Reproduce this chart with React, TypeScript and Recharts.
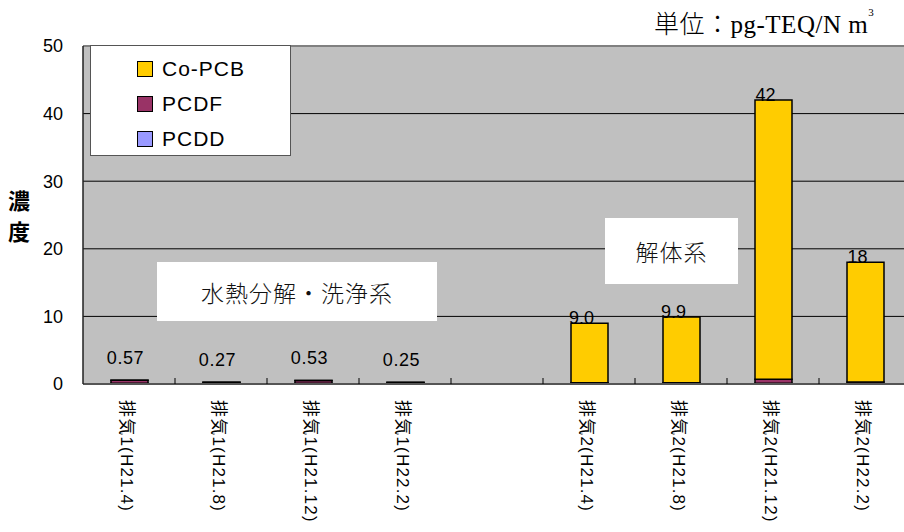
import { BarChart, Bar, XAxis, YAxis, CartesianGrid, LabelList, ReferenceLine } from 'recharts';

const categories = ['排気1(H21.4)', '排気1(H21.8)', '排気1(H21.12)', '排気1(H22.2)', '', '排気2(H21.4)', '排気2(H21.8)', '排気2(H21.12)', '排気2(H22.2)'];
const pcdd = [0.12, 0.06, 0.12, 0.06, null, 0.05, 0.05, 0.1, 0.05];
const pcdf = [0.43, 0.19, 0.39, 0.17, null, 0.12, 0.15, 0.6, 0.25];
const coPcb = [0.02, 0.02, 0.02, 0.02, null, 8.8, 9.7, 41.3, 17.7];
const totalLabels = ['0.57', '0.27', '0.53', '0.25', '', '9.0', '9.9', '42', '18'];
const yTicks = [0, 10, 20, 30, 40, 50];

const series = [
  { key: 'coPcb', name: 'Co-PCB', color: '#FFCC00' },
  { key: 'pcdf', name: 'PCDF', color: '#993366' },
  { key: 'pcdd', name: 'PCDD', color: '#9999FF' },
];

const data = categories.map((name, i) => ({
  name,
  pcdd: pcdd[i],
  pcdf: pcdf[i],
  coPcb: coPcb[i],
  label: totalLabels[i],
}));

const W = 920;
const H = 532;
const margin = { top: 46, right: 9, left: 43, bottom: 8 };
const Y_W = 40;
const BAND = (W - margin.left - margin.right - Y_W) / categories.length;
const FONT = '"Liberation Sans", Arial, "Noto Sans CJK JP", sans-serif';

function CategoryTick(props: any) {
  const { x, y, payload, index } = props;
  const ty = y + 16;
  return (
    <g>
      {index < categories.length - 1 && (
        <line x1={x + BAND / 2} x2={x + BAND / 2} y1={y} y2={y - 6} stroke="#000" strokeWidth={1} />
      )}
      {payload.value && (
        <text x={x - 3} y={ty} transform={`rotate(90 ${x - 3} ${ty})`} dominantBaseline="central" textAnchor="start"
          fontSize={17} letterSpacing={1.2} fill="#000" fontFamily={FONT}>
          {payload.value}
        </text>
      )}
    </g>
  );
}

function TotalLabel(props: any) {
  const { x, y, width, value } = props;
  if (!value) return null;
  const small = parseFloat(value) < 1;
  return (
    <text x={x + width / 2 - (small ? 4 : 8)} y={small ? y - 16 : y + 1} textAnchor="middle" fontSize={18}
      letterSpacing={small ? 0.6 : 0} fill="#000" fontFamily={FONT}>
      {value}
    </text>
  );
}

function LegendBox() {
  return (
    <div style={{ position: 'absolute', left: 90, top: 45, width: 201, height: 111, background: '#fff', border: '1px solid #555', boxSizing: 'border-box', paddingTop: 5 }}>
      {series.map((s) => (
        <div key={s.key} style={{ display: 'flex', alignItems: 'center', height: 35, paddingLeft: 46 }}>
          <span style={{ width: 14, height: 14, background: s.color, border: '1px solid #000', display: 'inline-block' }} />
          <span style={{ marginLeft: 9, fontSize: 21, fontFamily: FONT, letterSpacing: 1, color: '#000' }}>{s.name}</span>
        </div>
      ))}
    </div>
  );
}

const boxText = { position: 'absolute' as const, background: '#fff', display: 'flex', alignItems: 'center', justifyContent: 'center',
  fontFamily: '"Noto Sans CJK JP", sans-serif', fontSize: 23, fontWeight: 300, color: '#111', letterSpacing: 1 };

export default function App() {
  return (
    <div style={{ position: 'absolute', left: 0, top: 0, width: 904, height: H, overflow: 'hidden', background: '#fff' }}>
      <BarChart width={W} height={H} data={data} margin={margin} barSize={37}>
        <CartesianGrid vertical={false} stroke="#000" fill="#C0C0C0" strokeWidth={1} />
        <XAxis dataKey="name" interval={0} height={140} tickSize={0} tickMargin={0} tickLine={false}
          axisLine={{ stroke: '#555', strokeWidth: 2 }} tick={<CategoryTick />} />
        <YAxis width={Y_W} domain={[0, 50]} ticks={yTicks} tickLine={false} tickMargin={14}
          axisLine={{ stroke: '#222', strokeWidth: 1.5 }} tick={{ fill: '#000', fontSize: 18, fontFamily: FONT }} />
        <ReferenceLine y={50} stroke="#808080" strokeWidth={2} />
        <Bar dataKey="pcdd" name="PCDD" stackId="a" fill="#9999FF" stroke="#000" strokeWidth={1.5} isAnimationActive={false} />
        <Bar dataKey="pcdf" name="PCDF" stackId="a" fill="#993366" stroke="#000" strokeWidth={1.5} isAnimationActive={false} />
        <Bar dataKey="coPcb" name="Co-PCB" stackId="a" fill="#FFCC00" stroke="#000" strokeWidth={1.5} isAnimationActive={false}>
          <LabelList dataKey="label" content={<TotalLabel />} />
        </Bar>
      </BarChart>
      <LegendBox />
      <div style={{ position: 'absolute', left: 654, top: 4, fontFamily: '"Liberation Serif", "DejaVu Serif", serif', fontSize: 25, color: '#000', whiteSpace: 'nowrap', letterSpacing: 0.5 }}>
        <span style={{ fontFamily: '"Noto Sans CJK JP", serif', fontWeight: 300, fontSize: 25 }}>単位：</span>pg-TEQ/N m<sup style={{ fontSize: 11, verticalAlign: 'top', position: 'relative', top: 2 }}>3</sup>
      </div>
      <div style={{ position: 'absolute', left: 8, top: 184, width: 30, fontFamily: '"Noto Sans CJK JP", sans-serif', fontWeight: 700, fontSize: 22, lineHeight: '31px', color: '#000' }}>
        濃<br />度
      </div>
      <div style={{ ...boxText, left: 157, top: 262, width: 280, height: 59 }}>水熱分解・洗浄系</div>
      <div style={{ ...boxText, left: 605, top: 218, width: 133, height: 66 }}>解体系</div>
    </div>
  );
}
